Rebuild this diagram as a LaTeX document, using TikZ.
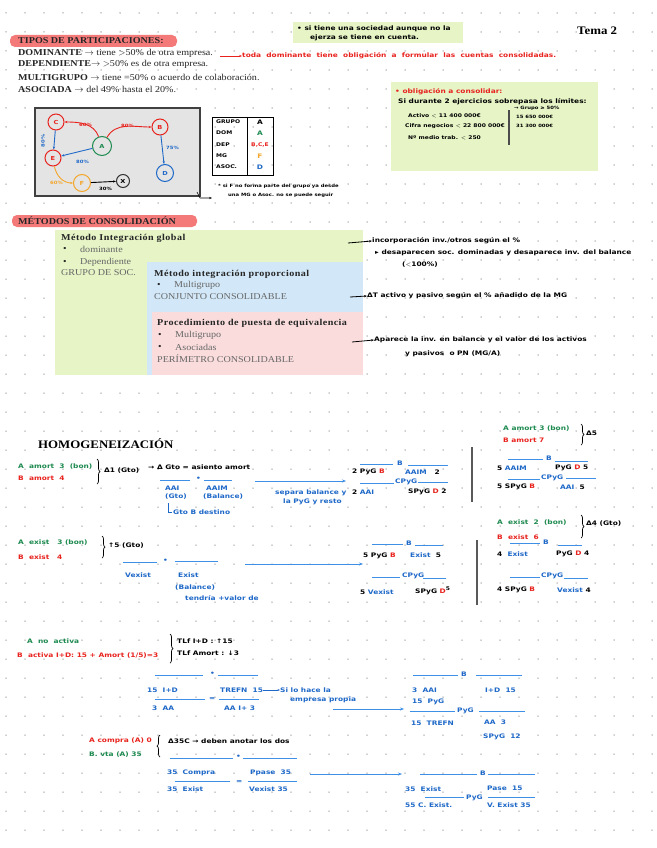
\documentclass[tikz,border=0pt]{standalone}
\usepackage{fontspec}
\setmainfont{Liberation Serif}[FakeStretch=1.12]
\newfontfamily\hwf{DejaVu Sans}[FakeStretch=1.2]
\usetikzlibrary{arrows.meta,decorations.pathreplacing}
\definecolor{hired}{HTML}{F47A7A}
\definecolor{hgreen}{HTML}{E6F4C6}
\definecolor{hblue}{HTML}{D2E8F8}
\definecolor{hpink}{HTML}{FADCDC}
\definecolor{pred}{HTML}{E8231E}
\definecolor{pgreen}{HTML}{1D8A4F}
\definecolor{pblue}{HTML}{1E68C8}
\definecolor{lblue}{HTML}{3E8FE6}
\definecolor{porange}{HTML}{F4A62A}
\definecolor{gbox}{HTML}{E4E4E4}
\tikzset{
 pr/.style={anchor=west, inner sep=0pt, font=\fontsize{9}{10}\selectfont, text=black!85},
 prb/.style={pr, font=\bfseries\fontsize{9}{10}\selectfont},
 prt/.style={pr, font=\bfseries\fontsize{9}{10}\selectfont\addfontfeature{LetterSpace=5}},
 prl/.style={pr, text=black!60},
 hw/.style={anchor=west, inner sep=0pt, font=\hwf\bfseries\fontsize{6.2}{7}\selectfont},
 hws/.style={hw, font=\hwf\bfseries\fontsize{5}{6}\selectfont},
 hwr/.style={hw, text=pred}, hwg/.style={hw, text=pgreen}, hwb/.style={hw, text=pblue},
 gl/.style={hw, font=\hwf\bfseries\fontsize{4.4}{5}\selectfont},
 tl/.style={draw=lblue, line width=0.9pt},
 barrow/.style={draw=lblue, line width=1pt, -{Stealth[length=4pt]}},
 karrow/.style={draw=black, line width=0.8pt, -{Stealth[length=3pt]}},
 gn/.style={circle, draw, line width=1pt, minimum size=16pt, inner sep=0pt, font=\hwf\bfseries\fontsize{5.5}{6}\selectfont},
 ge/.style={-{Stealth[length=3pt]}, line width=0.9pt},
 brc/.style={decorate, decoration={brace, amplitude=3pt}, line width=0.7pt},
}
\begin{document}
\begin{tikzpicture}[x=1pt,y=-1pt]
\useasboundingbox (0,0) rectangle (656,848);
\fill[white] (0,0) rectangle (656,848);
\foreach \i in {0,...,34}{\foreach \j in {0,...,44}{\fill[black!38] (6+19*\i,13+19*\j) circle (0.75pt);}}

% ---------- header ----------
\node[anchor=west, inner sep=0pt, font=\bfseries\fontsize{11.5}{13}\selectfont] (tema) at (577,31) {Tema 2};
\fill[hgreen] (293,22) rectangle (463,43);
\node[hw] (n1) at (297,29) {• si tiene una sociedad aunque no la};
\node[hw] (n2) at (310,38) {ejerza se tiene en cuenta.};

\fill[hired, rounded corners=5pt] (10,35) rectangle (177,47);
\node[prb] (tp) at (18,41) {TIPOS DE PARTICIPACIONES:};
\node[pr] (dom) at (18,53) {\textbf{DOMINANTE} $\rightarrow$ tiene $>$50\% de otra empresa.};
\node[pr] (dep) at (18,64) {\textbf{DEPENDIENTE}$\rightarrow$ $>$50\% es de otra empresa.};
\node[pr] (mg) at (18,77) {\textbf{MULTIGRUPO} $\rightarrow$ tiene =50\% o acuerdo de colaboración.};
\node[pr] (as) at (18,89) {\textbf{ASOCIADA} $\rightarrow$ del 49\% hasta el 20\%.};
\coordinate (ra1) at (220,56);
\node[hwr] (rtxt) at (242,56) {toda \ dominante \ tiene \ obligación \ a \ formular \ las \ cuentas \ consolidadas.};
\draw[draw=pred, line width=0.9pt, -{Stealth[length=3pt]}] (ra1) -- (rtxt.west);

% ---------- graph ----------
\draw[fill=gbox, draw=black!75, line width=1.2pt] (35,108) rectangle (200,196);
\node[gn, draw=pred, text=pred] (C) at (56,122) {C};
\node[gn, draw=pred, text=pred] (B) at (160,127) {B};
\node[gn, draw=pgreen, text=pgreen, minimum size=19pt] (A) at (102,146) {A};
\node[gn, draw=pred, text=pred] (E) at (53,158) {E};
\node[gn, draw=pblue, text=pblue, minimum size=17pt] (D) at (165,173) {D};
\node[gn, draw=porange, text=porange, minimum size=17pt] (F) at (82,183) {F};
\node[gn, draw=black!80, text=black, minimum size=13pt] (X) at (123,181) {X};
\draw[ge, draw=pred] (A) to[out=110, in=0] (C);
\draw[ge, draw=pred] (A) to[out=60, in=180] (B);
\draw[ge, draw=pblue] (C) -- (E);
\draw[ge, draw=pblue] (A) -- (E);
\draw[ge, draw=pblue] (B) -- (D);
\draw[ge, draw=porange] (E) to[out=-80, in=180] (F);
\draw[ge, draw=black] (F) -- (X);
\node[gl, text=pred] (l1) at (79,125) {60\%};
\node[gl, text=pred] (l2) at (121,126) {80\%};
\node[gl, text=pblue, rotate=90, anchor=center] (l3) at (43,141) {80\%};
\node[gl, text=pblue] (l4) at (76,162) {80\%};
\node[gl, text=pblue] (l5) at (166,148) {75\%};
\node[gl, text=porange] (l6) at (50,183) {60\%};
\node[gl] (l7) at (99,189) {30\%};

% table
\draw[line width=0.9pt] (212,117) rectangle (273,175);
\draw[line width=0.9pt] (247,117) -- (247,175);
\node[hws] (g1) at (216,122) {GRUPO};
\node[hws] (g2) at (216,133) {DOM};
\node[hws] (g3) at (216,145) {DEP};
\node[hws] (g4) at (216,156) {MG};
\node[hws] (g5) at (216,167) {ASOC.};
\node[hw, anchor=center] (h1) at (260,122) {A};
\node[hwg, anchor=center] (h2) at (260,133) {A};
\node[hwr, anchor=center, font=\hwf\bfseries\fontsize{5}{6}\selectfont] (h3) at (260,145) {B,C,E};
\node[hw, anchor=center, text=porange] (h4) at (260,156) {F};
\node[hwb, anchor=center] (h5) at (260,167) {D};

\coordinate (bc) at (197,192);
\coordinate (bn) at (212,198);
\draw[karrow, line width=0.6pt] (bc) -- (200,198) -- (bn);
\node[gl] (fn1) at (218,186) {* si F no forma parte del grupo ya desde};
\node[gl] (fn2) at (228,195) {una MG o Asoc. no se puede seguir};

% green box right
\fill[hgreen] (391,82) rectangle (598,171);
\node[hwr] (ob) at (395,92) {• obligación a consolidar:};
\node[hw] (o1) at (398,102) {Si durante 2 ejercicios sobrepasa los límites:};
\node[hws] (o2) at (408,116) {Activo $<$ 11 400 000€};
\node[hws] (o3) at (405,126) {Cifra negocios $<$ 22 800 000€};
\node[hws] (o4) at (408,138) {Nº medio trab. $<$ 250};
\draw[black!70, line width=1.6pt] (509,110) -- (509,145);
\node[gl] (o5) at (514,108) {→ Grupo ≥ 50\%};
\node[gl] (o6) at (516,117) {15 650 000€};
\node[gl] (o7) at (516,126) {31 300 000€};

% ---------- métodos ----------
\fill[hired, rounded corners=5pt] (12,215) rectangle (197,227);
\node[prb] (mt) at (18,221) {MÉTODOS DE CONSOLIDACIÓN};
\fill[hgreen] (55,230) rectangle (363,375);
\fill[hblue] (147,262) rectangle (363,375);
\fill[hpink] (152,312) rectangle (363,375);
\node[prt] (m1) at (61,238) {Método Integración global};
\node[pr] (m1a) at (63,249) {•};
\node[prl] (m1b) at (80,249) {dominante};
\node[pr] (m1c) at (63,262) {•};
\node[prl] (m1d) at (80,262) {Dependiente};
\node[prl] (m1e) at (61,273) {GRUPO DE SOC.};
\node[prt] (m2) at (154,274) {Método integración proporcional};
\node[pr] (m2a) at (157,285) {•};
\node[prl] (m2b) at (174,285) {Multigrupo};
\node[prl] (m2c) at (154,297) {CONJUNTO CONSOLIDABLE};
\node[prt] (m3) at (157,323) {Procedimiento de puesta de equivalencia};
\node[pr] (m3a) at (158,335) {•};
\node[prl] (m3b) at (175,335) {Multigrupo};
\node[pr] (m3c) at (158,347) {•};
\node[prl] (m3d) at (175,347) {Asociadas};
\node[prl] (m3e) at (157,359) {PERÍMETRO CONSOLIDABLE};

\coordinate (q1) at (348,243);
\node[hw] (r1) at (372,241) {incorporación inv./otros según el \%};
\draw[karrow] (q1) -- (r1.west);
\node[hw] (r2) at (375,253) {▸ desaparecen soc. dominadas y desaparece inv. del balance};
\node[hw] (r3) at (402,265) {($<$100\%)};
\coordinate (q2) at (350,297);
\node[hw] (r4) at (367,296) {ΔT activo y pasivo según el \% añadido de la MG};
\draw[karrow] (q2) -- (r4.west);
\coordinate (q3) at (352,342);
\node[hw] (r5) at (374,340) {Aparece la inv. en balance y el valor de los activos};
\draw[karrow] (q3) -- (r5.west);
\node[hw] (r6) at (405,354) {y pasivos \ o PN (MG/A)};

% ---------- homogeneización ----------
\node[anchor=west, inner sep=0pt, font=\bfseries\fontsize{11.5}{13}\selectfont] (hom) at (38,444) {HOMOGENEIZACIÓN};

% section 1 left
\node[hwg] (s1a) at (18,467) {A \ amort \ 3 \ (bon)};
\node[hwr] (s1b) at (18,478) {B \ amort \ 4};
\draw[brc] (97,459) -- (97,484);
\node[hw] (s1c) at (104,471) {Δ1 (Gto)};
\node[hw] (s1d) at (148,467) {→ Δ Gto = asiento amort};
\draw[tl] (160,480) -- (190,480);
\node[hwb] (s1dot) at (196,479) {•};
\draw[tl] (204,480) -- (232,480);
\node[hwb] (s1e) at (165,488) {AAI};
\node[hwb] (s1f) at (165,497) {(Gto)};
\node[hwb] (s1g) at (206,488) {AAIM};
\node[hwb] (s1h) at (203,497) {(Balance)};
\draw[pblue, line width=0.6pt] (168,503) -- (168,512) -- (172,512);
\node[hwb] (s1i) at (173,512) {Gto B destino};
\coordinate (a1s) at (255,481);
\coordinate (a1e) at (346,481);
\draw[barrow] (a1s) -- (a1e);
\node[hwb] (s1j) at (275,493) {separa balance y};
\node[hwb] (s1k) at (283,502) {la PyG y resto};

% section 1 T
\draw[tl] (360,464) -- (393,464);
\node[hwb] (t1b) at (397,463) {B};
\draw[tl] (408,465) -- (448,465);
\node[hw] (t1r1) at (352,472) {2 PyG \textcolor{pred}{B}};
\node[hw] (t1r2) at (405,472) {\textcolor{pblue}{AAIM} \ \ 2};
\draw[tl] (360,483) -- (394,483);
\node[hwb] (t1c) at (395,482) {CPyG};
\draw[tl] (418,482) -- (448,482);
\node[hw] (t1r3) at (352,492) {2 \textcolor{pblue}{AAI}};
\node[hw] (t1r4) at (408,492) {SPyG \textcolor{pred}{D} 2};
\draw[black!65, line width=1.4pt] (472,447) -- (472,502);

% section 1 right
\node[hwg] (u1a) at (503,429) {A amort 3 (bon)};
\node[hwr] (u1b) at (503,440) {B amort 7};
\draw[brc] (581,424) -- (581,445);
\node[hw] (u1c) at (586,433) {Δ5};
\draw[tl] (508,459) -- (543,459);
\node[hwb] (u1d) at (546,458) {B};
\draw[tl] (555,461) -- (588,461);
\node[hw] (u1r1) at (497,468) {5 \textcolor{pblue}{AAIM}};
\node[hw] (u1r2) at (555,468) {PyG \textcolor{pred}{D} 5};
\draw[tl] (508,479) -- (540,479);
\node[hwb] (u1e) at (541,478) {CPyG};
\draw[tl] (566,478) -- (596,478);
\node[hw] (u1r3) at (497,487) {5 SPyG \textcolor{pred}{B}};
\node[hw] (u1r4) at (560,487) {\textcolor{pblue}{AAI} \ 5};

% section 2 left
\node[hwg] (s2a) at (18,543) {A \ exist \ \ 3 (bon)};
\node[hwr] (s2b) at (18,557) {B \ exist \ \ 4};
\draw[brc] (102,536) -- (102,558);
\node[hw] (s2c) at (108,546) {↑5 (Gto)};
\draw[tl] (123,562) -- (157,562);
\node[hwb] (s2dot) at (163,561) {•};
\draw[tl] (175,561) -- (218,561);
\node[hwb] (s2d) at (125,575) {Vexist};
\node[hwb] (s2e) at (178,575) {Exist};
\node[hwb] (s2f) at (175,588) {(Balance)};
\node[hwb] (s2g) at (185,598) {tendría +valor de};
\coordinate (a2s) at (245,564);
\coordinate (a2e) at (363,564);
\draw[barrow] (a2s) -- (a2e);

% section 2 T
\draw[tl] (372,544) -- (403,544);
\node[hwb] (t2b) at (406,543) {B};
\draw[tl] (415,545) -- (443,545);
\node[hw] (t2r1) at (363,556) {5 PyG \textcolor{pred}{B}};
\node[hw] (t2r2) at (410,555) {\textcolor{pblue}{Exist} \ 5};
\draw[tl] (372,577) -- (400,577);
\node[hwb] (t2c) at (402,576) {CPyG};
\draw[tl] (423,578) -- (446,578);
\node[hw] (t2r3) at (360,592) {5 \textcolor{pblue}{Vexist}};
\node[hw] (t2r4) at (415,591) {SPyG \textcolor{pred}{D}\raisebox{3pt}{\tiny 5}};
\draw[black!65, line width=1.4pt] (477,540) -- (477,605);

% section 2 right
\node[hwg] (u2a) at (497,523) {A \ exist \ 2 \ (bon)};
\node[hwr] (u2b) at (497,537) {B \ exist \ 6};
\draw[brc] (581,515) -- (581,538);
\node[hw] (u2c) at (586,524) {Δ4 (Gto)};
\draw[tl] (510,543) -- (540,543);
\node[hwb] (u2d) at (543,542) {B};
\draw[tl] (558,545) -- (582,545);
\node[hw] (u2r1) at (497,554) {4 \ \textcolor{pblue}{Exist}};
\node[hw] (u2r2) at (556,554) {PyG \textcolor{pred}{D} 4};
\draw[tl] (510,577) -- (540,577);
\node[hwb] (u2e) at (541,576) {CPyG};
\draw[tl] (564,578) -- (588,578);
\node[hw] (u2r3) at (497,590) {4 SPyG \textcolor{pred}{B}};
\node[hw] (u2r4) at (557,590) {\textcolor{pblue}{Vexist} 4};

% section 3
\node[hwg] (s3a) at (27,641) {A \ no \ activa};
\node[hwr] (s3b) at (17,656) {B \ activa I+D: 15 + Amort (1/5)=3};
\draw[brc] (170,634) -- (170,663);
\node[hw] (s3c) at (177,641) {TLf I+D : ↑15};
\node[hw] (s3d) at (177,653) {TLf Amort : ↓3};
\draw[tl] (155,675) -- (203,675);
\node[hwb] (s3dot) at (210,674) {•};
\draw[tl] (218,675) -- (258,675);
\node[hwb] (s3e) at (147,690) {15 \ I+D};
\draw[tl] (155,699) -- (205,699);
\node[hwb] (s3f) at (152,708) {3 \ AA};
\node[hwb] (s3eq) at (209,699) {=};
\node[hwb] (s3g) at (220,690) {TREFN \ 15};
\draw[tl] (219,699) -- (259,699);
\node[hwb] (s3h) at (224,708) {AA I+ 3};
\coordinate (q4) at (263,690);
\node[hwb] (s3i) at (280,690) {Si lo hace la};
\draw[draw=pblue, line width=0.7pt, -{Stealth[length=2.5pt]}] (q4) -- (s3i.west);
\node[hwb] (s3j) at (290,700) {empresa propia};
\coordinate (a3s) at (333,709);
\coordinate (a3e) at (404,709);
\draw[barrow] (a3s) -- (a3e);

\draw[tl] (413,675) -- (458,675);
\node[hwb] (t3b) at (461,674) {B};
\draw[tl] (476,675) -- (522,675);
\node[hwb] (t3r1) at (412,690) {3 \ AAI};
\node[hwb] (t3r2) at (485,690) {I+D \ 15};
\node[hwb] (t3r3) at (412,702) {15 \ PyG};
\draw[tl] (410,711) -- (455,711);
\node[hwb] (t3c) at (457,711) {PyG};
\draw[tl] (479,711) -- (525,711);
\node[hwb] (t3r4) at (411,723) {15 \ TREFN};
\node[hwb] (t3r5) at (484,722) {AA \ 3};
\node[hwb] (t3r6) at (483,737) {SPyG \ 12};

% section 4
\node[hwr] (s4a) at (89,741) {A compra (A) 0};
\node[hwg] (s4b) at (89,755) {B. vta (A) 35};
\draw[brc] (160,757) -- (160,735);
\node[hw] (s4c) at (168,741) {Δ35C → deben anotar los dos};
\draw[tl] (170,758) -- (233,758);
\node[hwb] (s4dot) at (236,757) {•};
\draw[tl] (243,758) -- (297,758);
\node[hwb] (s4d) at (167,773) {35 \ Compra};
\draw[tl] (175,781) -- (230,781);
\node[hwb] (s4e) at (167,789) {35 \ Exist};
\node[hwb] (s4eq) at (236,782) {=};
\node[hwb] (s4f) at (250,773) {Ppase \ 35};
\draw[tl] (248,781) -- (297,781);
\node[hwb] (s4g) at (249,789) {Vexist 35};
\coordinate (a4s) at (310,774);
\coordinate (a4e) at (402,774);
\draw[barrow] (a4s) -- (a4e);

\draw[tl] (420,774) -- (477,774);
\node[hwb] (t4b) at (480,773) {B};
\draw[tl] (488,774) -- (535,774);
\node[hwb] (t4r1) at (405,789) {35 \ Exist};
\node[hwb] (t4r2) at (487,788) {Pase \ 15};
\draw[tl] (425,797) -- (464,797);
\node[hwb] (t4c) at (466,798) {PyG};
\draw[tl] (488,797) -- (535,797);
\node[hwb] (t4r3) at (405,805) {55 C. Exist.};
\node[hwb] (t4r4) at (487,805) {V. Exist 35};
\end{tikzpicture}
\end{document}
